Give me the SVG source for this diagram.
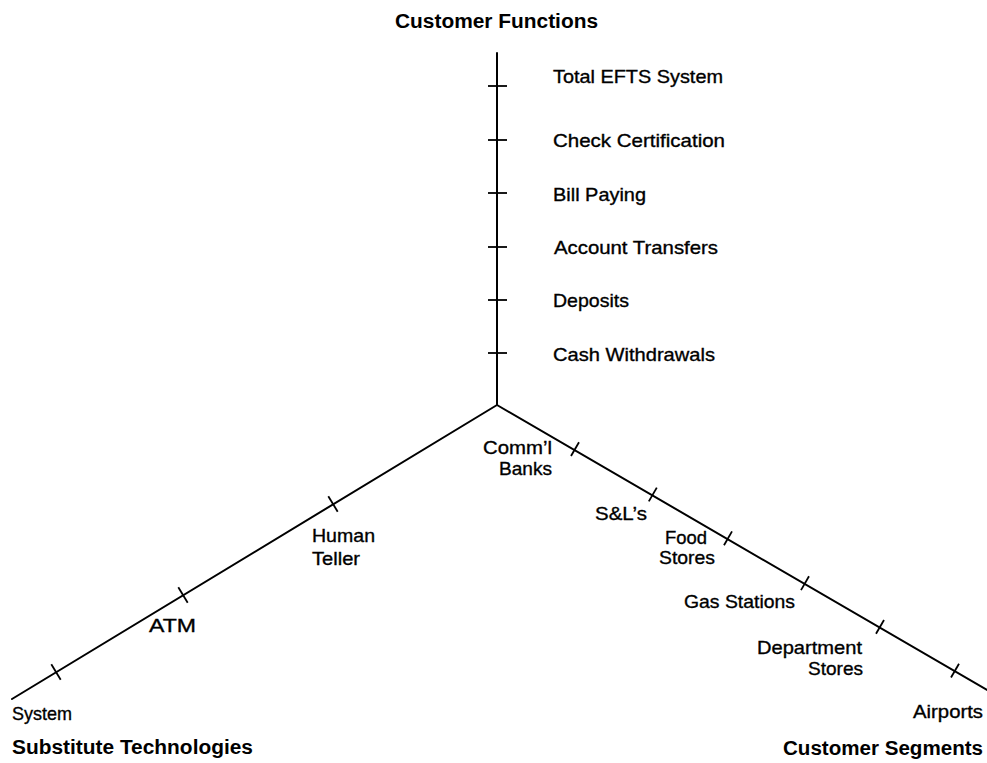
<svg xmlns="http://www.w3.org/2000/svg" width="987" height="763" viewBox="0 0 987 763">
<style>
.ax{stroke:#000;stroke-width:2;fill:none;stroke-linecap:round}
.tk{stroke:#000;stroke-width:1.8;fill:none}
.lb{font-family:"Liberation Sans","DejaVu Sans",sans-serif;font-size:19px;fill:#000;stroke:#000;stroke-width:0.35}
.tt{font-family:"Liberation Sans","DejaVu Sans",sans-serif;font-size:20px;font-weight:bold;fill:#000}
</style>
<rect width="987" height="763" fill="#fff"/>
<g id="connectors">
  <line class="ax" x1="497" y1="53" x2="497" y2="405"/>
  <line class="ax" x1="497" y1="405" x2="12" y2="699"/>
  <line class="ax" x1="497" y1="405" x2="987" y2="690"/>
</g>
<g id="ticks-functions">
  <line class="tk" x1="488" y1="86" x2="507" y2="86"/>
  <line class="tk" x1="488" y1="140" x2="507" y2="140"/>
  <line class="tk" x1="488" y1="193" x2="507" y2="193"/>
  <line class="tk" x1="488" y1="247" x2="507" y2="247"/>
  <line class="tk" x1="488" y1="300" x2="507" y2="300"/>
  <line class="tk" x1="488" y1="353" x2="507" y2="353"/>
</g>
<g id="ticks-technologies">
  <line class="tk" x1="328.3" y1="496.3" x2="337.7" y2="511.7"/>
  <line class="tk" x1="178.3" y1="587.3" x2="187.7" y2="602.7"/>
  <line class="tk" x1="51.3" y1="664.3" x2="60.7" y2="679.7"/>
</g>
<g id="ticks-segments">
  <line class="tk" x1="579" y1="442.2" x2="571" y2="456"/>
  <line class="tk" x1="656.8" y1="487.6" x2="648.8" y2="501.4"/>
  <line class="tk" x1="732" y1="531.4" x2="724" y2="545.2"/>
  <line class="tk" x1="809" y1="576.3" x2="801" y2="590.1"/>
  <line class="tk" x1="884" y1="620" x2="876" y2="633.8"/>
  <line class="tk" x1="959" y1="663.7" x2="951" y2="677.5"/>
</g>
<g id="axis-customer-functions">
  <text class="tt" x="395" y="28" textLength="203" lengthAdjust="spacingAndGlyphs">Customer Functions</text>
  <g id="f-total-efts"><text class="lb" x="553" y="83" textLength="170" lengthAdjust="spacingAndGlyphs">Total EFTS System</text></g>
  <g id="f-check-cert"><text class="lb" x="553" y="147" textLength="172" lengthAdjust="spacingAndGlyphs">Check Certification</text></g>
  <g id="f-bill-paying"><text class="lb" x="553" y="201" textLength="93" lengthAdjust="spacingAndGlyphs">Bill Paying</text></g>
  <g id="f-account-transfers"><text class="lb" x="554" y="254" textLength="164" lengthAdjust="spacingAndGlyphs">Account Transfers</text></g>
  <g id="f-deposits"><text class="lb" x="553" y="307" textLength="76" lengthAdjust="spacingAndGlyphs">Deposits</text></g>
  <g id="f-cash"><text class="lb" x="553" y="361" textLength="162" lengthAdjust="spacingAndGlyphs">Cash Withdrawals</text></g>
</g>
<g id="axis-substitute-technologies">
  <text class="tt" x="12" y="754" textLength="241" lengthAdjust="spacingAndGlyphs">Substitute Technologies</text>
  <g id="t-human-teller">
    <text class="lb" x="312" y="542" textLength="63" lengthAdjust="spacingAndGlyphs">Human</text>
    <text class="lb" x="312" y="565" textLength="48" lengthAdjust="spacingAndGlyphs">Teller</text>
  </g>
  <g id="t-atm"><text class="lb" x="149" y="632" textLength="47" lengthAdjust="spacingAndGlyphs">ATM</text></g>
  <g id="t-system"><text class="lb" x="12" y="720" textLength="60" lengthAdjust="spacingAndGlyphs">System</text></g>
</g>
<g id="axis-customer-segments">
  <text class="tt" x="783" y="755" textLength="200" lengthAdjust="spacingAndGlyphs">Customer Segments</text>
  <g id="s-comml-banks">
    <text class="lb" x="483" y="454" textLength="69" lengthAdjust="spacingAndGlyphs">Comm’l</text>
    <text class="lb" x="499" y="475" textLength="53" lengthAdjust="spacingAndGlyphs">Banks</text>
  </g>
  <g id="s-sls"><text class="lb" x="595" y="520" textLength="52" lengthAdjust="spacingAndGlyphs">S&amp;L’s</text></g>
  <g id="s-food-stores">
    <text class="lb" x="665" y="544" textLength="42" lengthAdjust="spacingAndGlyphs">Food</text>
    <text class="lb" x="659" y="564" textLength="56" lengthAdjust="spacingAndGlyphs">Stores</text>
  </g>
  <g id="s-gas-stations"><text class="lb" x="684" y="608" textLength="111" lengthAdjust="spacingAndGlyphs">Gas Stations</text></g>
  <g id="s-department-stores">
    <text class="lb" x="757" y="654" textLength="105" lengthAdjust="spacingAndGlyphs">Department</text>
    <text class="lb" x="808" y="675" textLength="55" lengthAdjust="spacingAndGlyphs">Stores</text>
  </g>
  <g id="s-airports"><text class="lb" x="913" y="718" textLength="70" lengthAdjust="spacingAndGlyphs">Airports</text></g>
</g>
</svg>
